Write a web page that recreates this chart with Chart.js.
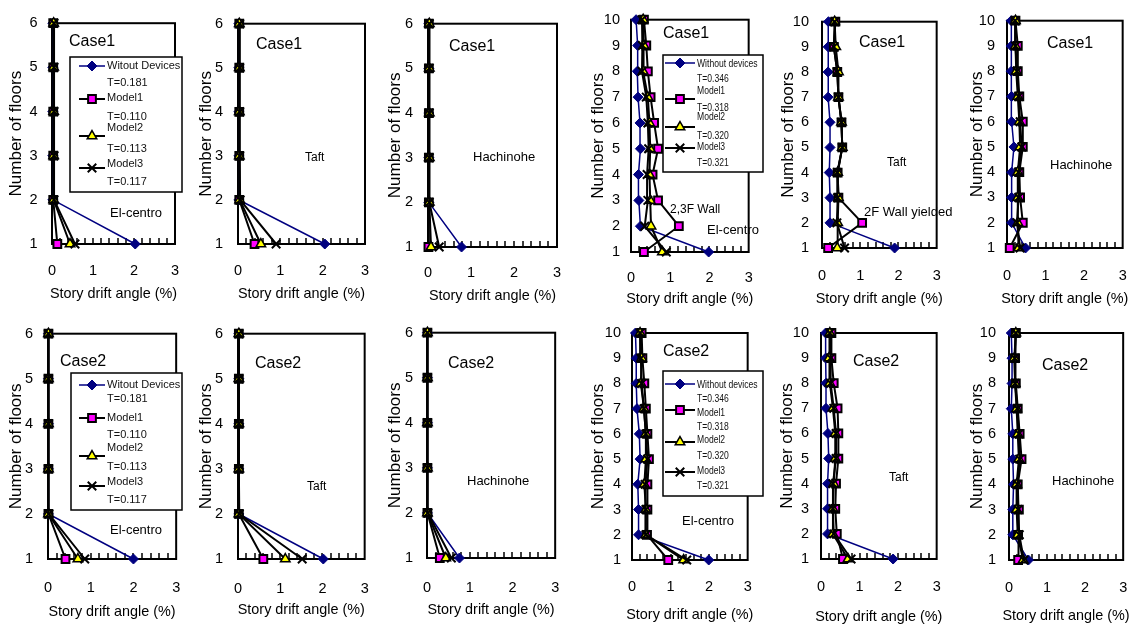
<!DOCTYPE html>
<html><head><meta charset="utf-8">
<script src="https://cdn.jsdelivr.net/npm/chart.js@4/dist/chart.umd.min.js"></script>
<style>
html,body{margin:0;padding:0;background:#fff;}
body{width:1146px;height:626px;position:relative;overflow:hidden;}
canvas{position:absolute;}
</style></head><body>
<script>
// ---------- DATA ----------
const floors6 = [1,2,3,4,5,6];
const floors10 = [1,2,3,4,5,6,7,8,9,10];
const xTickLabels = ['0','1','2','3'];
const xTitleText = 'Story drift angle (%)';
const yTitleText = 'Number of floors';
const names6 = ['Witout Devices','Model1','Model2','Model3'];
const periods6 = ['T=0.181','T=0.110','T=0.113','T=0.117'];
const names10 = ['Without devices','Model1','Model2','Model3'];
const periods10 = ['T=0.346','T=0.318','T=0.320','T=0.321'];

// 6-storey, Case1 (values for floors 1..6)
const c1_6_elc_without = [2.03, 0.02, 0.02, 0.02, 0.02, 0.02];
const c1_6_elc_model1  = [0.13, 0.03, 0.03, 0.03, 0.03, 0.03];
const c1_6_elc_model2  = [0.44, 0.04, 0.04, 0.04, 0.04, 0.04];
const c1_6_elc_model3  = [0.56, 0.05, 0.05, 0.05, 0.05, 0.05];
const c1_6_taft_without = [2.05, 0.02, 0.02, 0.02, 0.02, 0.02];
const c1_6_taft_model1  = [0.39, 0.03, 0.03, 0.03, 0.03, 0.03];
const c1_6_taft_model2  = [0.54, 0.04, 0.03, 0.03, 0.03, 0.03];
const c1_6_taft_model3  = [0.90, 0.05, 0.04, 0.04, 0.04, 0.04];
const c1_6_hach_without = [0.78, 0.02, 0.02, 0.02, 0.02, 0.02];
const c1_6_hach_model1  = [0.01, 0.02, 0.02, 0.02, 0.02, 0.02];
const c1_6_hach_model2  = [0.07, 0.03, 0.03, 0.03, 0.03, 0.03];
const c1_6_hach_model3  = [0.26, 0.03, 0.03, 0.03, 0.03, 0.03];
// 6-storey, Case2
const c2_6_elc_without = [2.00, 0.01, 0.01, 0.01, 0.01, 0.01];
const c2_6_elc_model1  = [0.41, 0.01, 0.01, 0.01, 0.01, 0.01];
const c2_6_elc_model2  = [0.70, 0.01, 0.01, 0.01, 0.01, 0.01];
const c2_6_elc_model3  = [0.86, 0.02, 0.01, 0.01, 0.01, 0.01];
const c2_6_taft_without = [2.02, 0.02, 0.02, 0.02, 0.02, 0.02];
const c2_6_taft_model1  = [0.60, 0.02, 0.02, 0.02, 0.02, 0.02];
const c2_6_taft_model2  = [1.12, 0.02, 0.02, 0.02, 0.02, 0.02];
const c2_6_taft_model3  = [1.52, 0.03, 0.02, 0.02, 0.02, 0.02];
const c2_6_hach_without = [0.76, 0.01, 0.01, 0.01, 0.01, 0.01];
const c2_6_hach_model1  = [0.30, 0.01, 0.01, 0.01, 0.01, 0.01];
const c2_6_hach_model2  = [0.44, 0.01, 0.01, 0.01, 0.01, 0.01];
const c2_6_hach_model3  = [0.57, 0.02, 0.01, 0.01, 0.01, 0.01];

// 10-storey, Case1 (values for floors 1..10)
const c1_10_elc_without = [1.98, 0.24, 0.20, 0.19, 0.24, 0.23, 0.18, 0.16, 0.17, 0.13];
const c1_10_elc_model1  = [0.33, 1.22, 0.69, 0.55, 0.69, 0.59, 0.50, 0.43, 0.39, 0.33];
const c1_10_elc_model2  = [0.80, 0.51, 0.49, 0.47, 0.49, 0.47, 0.43, 0.31, 0.33, 0.31];
const c1_10_elc_model3  = [0.90, 0.35, 0.43, 0.41, 0.45, 0.43, 0.39, 0.28, 0.29, 0.28];
const c1_10_taft_without = [1.90, 0.21, 0.21, 0.19, 0.21, 0.21, 0.16, 0.16, 0.16, 0.17];
const c1_10_taft_model1  = [0.16, 1.05, 0.43, 0.41, 0.53, 0.51, 0.43, 0.40, 0.31, 0.35];
const c1_10_taft_model2  = [0.40, 0.41, 0.43, 0.41, 0.53, 0.51, 0.43, 0.43, 0.36, 0.33];
const c1_10_taft_model3  = [0.59, 0.39, 0.41, 0.40, 0.53, 0.51, 0.43, 0.40, 0.31, 0.33];
const c1_10_hach_without = [0.48, 0.12, 0.12, 0.12, 0.18, 0.12, 0.12, 0.11, 0.11, 0.11];
const c1_10_hach_model1  = [0.07, 0.41, 0.34, 0.32, 0.41, 0.41, 0.32, 0.28, 0.28, 0.22];
const c1_10_hach_model2  = [0.30, 0.28, 0.28, 0.28, 0.34, 0.32, 0.28, 0.24, 0.22, 0.22];
const c1_10_hach_model3  = [0.34, 0.26, 0.30, 0.30, 0.38, 0.34, 0.30, 0.26, 0.22, 0.21];
// 10-storey, Case2
const c2_10_elc_without = [1.99, 0.17, 0.17, 0.15, 0.21, 0.19, 0.13, 0.11, 0.11, 0.09];
const c2_10_elc_model1  = [0.94, 0.39, 0.40, 0.40, 0.44, 0.40, 0.36, 0.32, 0.27, 0.25];
const c2_10_elc_model2  = [1.34, 0.36, 0.36, 0.32, 0.36, 0.36, 0.31, 0.23, 0.25, 0.21];
const c2_10_elc_model3  = [1.42, 0.36, 0.36, 0.34, 0.40, 0.36, 0.31, 0.25, 0.23, 0.21];
const c2_10_taft_without = [1.87, 0.17, 0.17, 0.17, 0.20, 0.18, 0.13, 0.13, 0.12, 0.12];
const c2_10_taft_model1  = [0.57, 0.41, 0.37, 0.39, 0.45, 0.45, 0.43, 0.33, 0.27, 0.27];
const c2_10_taft_model2  = [0.70, 0.31, 0.31, 0.33, 0.37, 0.37, 0.31, 0.23, 0.21, 0.23];
const c2_10_taft_model3  = [0.78, 0.33, 0.31, 0.31, 0.39, 0.39, 0.33, 0.25, 0.25, 0.23];
const c2_10_hach_without = [0.51, 0.10, 0.10, 0.12, 0.10, 0.10, 0.06, 0.08, 0.08, 0.06];
const c2_10_hach_model1  = [0.24, 0.24, 0.26, 0.23, 0.33, 0.28, 0.23, 0.18, 0.16, 0.18];
const c2_10_hach_model2  = [0.37, 0.23, 0.20, 0.20, 0.26, 0.23, 0.20, 0.16, 0.14, 0.18];
const c2_10_hach_model3  = [0.39, 0.27, 0.24, 0.22, 0.28, 0.26, 0.22, 0.16, 0.15, 0.18];

// ---------- STYLE / LAYOUT ----------
const FONT = "'Liberation Sans', Arial, sans-serif";
const minorStep = 0.2;
const tickSize = 14.5, xTitleSize = 14.4, yTitleSize = 17;
const seriesStyles = [
  {line:'#000080', fill:'#000080', stroke:'#000080', pointStyle:'rectRot', radius:5, lineWidth:1.5, pbw:1, order:3},
  {line:'#000000', fill:'#FF00FF', stroke:'#000000', pointStyle:'rect', radius:5.5, lineWidth:2, pbw:2, order:2},
  {line:'#000000', fill:'#FFFF00', stroke:'#000000', pointStyle:'triangle', radius:5.5, lineWidth:2, pbw:1.5, order:1},
  {line:'#000000', fill:'#000000', stroke:'#000000', pointStyle:'crossRot', radius:6, lineWidth:2, pbw:2, order:0}
];
const colX = [0,190,380,570,760,950];
const rowY = [0,310];
const rowH = [310,316];

const legend6a = {x:70,y:57,w:112,h:135,sx1:9,sx2:35,lx:37,labelY:[9,41,71,107],tY:[26,60,92,125],sampleY:[9,42,79,111],size:11,scaleX:1,names:names6,periods:periods6};
const legend6b = {x:71,y:63,w:111,h:137,sx1:8,sx2:34,lx:36,labelY:[12,45,75,109],tY:[26,62,94,127],sampleY:[12,45,83,113],size:11,scaleX:1,names:names6,periods:periods6};
const legend10a = {x:93,y:55,w:100,h:117,sx1:2,sx2:32,lx:34,labelY:[9,36,62,92],tY:[24,53,81,108],sampleY:[8,44,72,93],size:11,scaleX:0.78,names:names10,periods:periods10};
const legend10b = {x:93,y:61,w:100,h:125,sx1:2,sx2:32,lx:34,labelY:[14,42,69,100],tY:[28,56,85,115],sampleY:[13,39,71,101],size:11,scaleX:0.78,names:names10,periods:periods10};

const charts = [
  {col:0,row:0,floors:floors6,series:[c1_6_elc_without,c1_6_elc_model1,c1_6_elc_model2,c1_6_elc_model3],
   L:52,R:175,T:14,B:244,yTitleX:16,xTitleY:294,xTickY:271,yTickRight:37.5,legend:legend6a,
   notes:[{t:'Case1',x:69,y:42,s:16},{t:'El-centro',x:110,y:213,s:13}]},
  {col:1,row:0,floors:floors6,series:[c1_6_taft_without,c1_6_taft_model1,c1_6_taft_model2,c1_6_taft_model3],
   L:48,R:175,T:14,B:244,yTitleX:16,xTitleY:294,xTickY:271,yTickRight:33,
   notes:[{t:'Case1',x:66,y:45,s:16},{t:'Taft',x:115,y:158,s:12}]},
  {col:2,row:0,floors:floors6,series:[c1_6_hach_without,c1_6_hach_model1,c1_6_hach_model2,c1_6_hach_model3],
   L:48,R:177,T:14,B:247,yTitleX:15,xTitleY:296,xTickY:273,yTickRight:33,
   notes:[{t:'Case1',x:69,y:47,s:16},{t:'Hachinohe',x:93,y:157,s:13}]},
  {col:3,row:0,floors:floors10,series:[c1_10_elc_without,c1_10_elc_model1,c1_10_elc_model2,c1_10_elc_model3],
   L:61,R:188,T:17,B:252,yTitleX:28,xTitleY:299,xTickY:278,yTickRight:50,legend:legend10a,
   notes:[{t:'Case1',x:93,y:34,s:16},{t:'2,3F Wall',x:100,y:210,s:12},{t:'El-centro',x:137,y:230,s:13}]},
  {col:4,row:0,floors:floors10,series:[c1_10_taft_without,c1_10_taft_model1,c1_10_taft_model2,c1_10_taft_model3],
   L:62,R:188,T:18,B:248,yTitleX:28,xTitleY:299,xTickY:276,yTickRight:49,
   notes:[{t:'Case1',x:99,y:43,s:16},{t:'Taft',x:127,y:163,s:12},{t:'2F Wall yielded',x:104,y:212,s:13}]},
  {col:5,row:0,floors:floors10,series:[c1_10_hach_without,c1_10_hach_model1,c1_10_hach_model2,c1_10_hach_model3],
   L:57,R:187,T:18,B:248,yTitleX:27,xTitleY:299,xTickY:276,yTickRight:45,
   notes:[{t:'Case1',x:97,y:44,s:16},{t:'Hachinohe',x:100,y:165,s:13}]},
  {col:0,row:1,floors:floors6,series:[c2_6_elc_without,c2_6_elc_model1,c2_6_elc_model2,c2_6_elc_model3],
   L:48,R:177,T:16,B:249,yTitleX:16,xTitleY:302.5,xTickY:277.5,yTickRight:33,legend:legend6b,
   notes:[{t:'Case2',x:60,y:52,s:16},{t:'El-centro',x:110,y:220,s:13}]},
  {col:1,row:1,floors:floors6,series:[c2_6_taft_without,c2_6_taft_model1,c2_6_taft_model2,c2_6_taft_model3],
   L:48,R:177,T:16,B:249,yTitleX:16,xTitleY:300.5,xTickY:279,yTickRight:33,
   notes:[{t:'Case2',x:65,y:54,s:16},{t:'Taft',x:117,y:177,s:12}]},
  {col:2,row:1,floors:floors6,series:[c2_6_hach_without,c2_6_hach_model1,c2_6_hach_model2,c2_6_hach_model3],
   L:47,R:177,T:16,B:248,yTitleX:15,xTitleY:300.5,xTickY:277.5,yTickRight:33,
   notes:[{t:'Case2',x:68,y:54,s:16},{t:'Hachinohe',x:87,y:171,s:13}]},
  {col:3,row:1,floors:floors10,series:[c2_10_elc_without,c2_10_elc_model1,c2_10_elc_model2,c2_10_elc_model3],
   L:62,R:188,T:23,B:250,yTitleX:28,xTitleY:305,xTickY:277,yTickRight:51,legend:legend10b,
   notes:[{t:'Case2',x:93,y:42,s:16,clipBottom:46},{t:'El-centro',x:112,y:211,s:13}]},
  {col:4,row:1,floors:floors10,series:[c2_10_taft_without,c2_10_taft_model1,c2_10_taft_model2,c2_10_taft_model3],
   L:61,R:188,T:23,B:249,yTitleX:27,xTitleY:307,xTickY:277,yTickRight:49,
   notes:[{t:'Case2',x:93,y:52,s:16},{t:'Taft',x:129,y:168,s:12}]},
  {col:5,row:1,floors:floors10,series:[c2_10_hach_without,c2_10_hach_model1,c2_10_hach_model2,c2_10_hach_model3],
   L:59,R:188,T:23,B:250,yTitleX:27,xTitleY:306,xTickY:277.5,yTickRight:46,
   notes:[{t:'Case2',x:92,y:56,s:16},{t:'Hachinohe',x:102,y:171,s:13}]}
];

// ---------- PLUGIN ----------
const framePlugin = {
  id: 'frame',
  beforeDatasetsDraw(chart) {
    const {ctx, chartArea: a} = chart;
    const xs = chart.scales.x;
    ctx.save();
    ctx.strokeStyle = '#000';
    ctx.lineWidth = 2;
    ctx.strokeRect(a.left, a.top, a.right - a.left, a.bottom - a.top);
    ctx.lineWidth = 1.5;
    ctx.beginPath();
    for (let v = minorStep; v < xs.max - 1e-6; v += minorStep) {
      const px = Math.round(xs.getPixelForValue(v));
      ctx.moveTo(px, a.bottom);
      ctx.lineTo(px, a.bottom - 6);
    }
    ctx.stroke();
    ctx.restore();
  },
  afterDraw(chart, args, opts) {
    const ctx = chart.ctx;
    const a = chart.chartArea;
    ctx.save();
    ctx.fillStyle = '#000';
    ctx.textBaseline = 'middle';
    // axis titles
    ctx.textAlign = 'center';
    ctx.font = xTitleSize + 'px ' + FONT;
    ctx.fillText(xTitleText, (a.left + a.right) / 2, opts.xTitleY);
    ctx.save();
    ctx.translate(opts.yTitleX, (a.top + a.bottom) / 2);
    ctx.rotate(-Math.PI / 2);
    ctx.font = yTitleSize + 'px ' + FONT;
    ctx.fillText(yTitleText, 0, 0);
    ctx.restore();
    // notes
    ctx.textAlign = 'left';
    (opts.notes || []).forEach(n => {
      ctx.save();
      if (n.clipBottom) { ctx.beginPath(); ctx.rect(0, 0, chart.width, n.clipBottom); ctx.clip(); }
      ctx.font = n.s + 'px ' + FONT;
      ctx.fillText(n.t, n.x, n.y);
      ctx.restore();
    });
    // legend
    const lg = opts.legend;
    if (lg) {
      ctx.fillStyle = '#fff';
      ctx.fillRect(lg.x, lg.y, lg.w, lg.h);
      ctx.strokeStyle = '#000';
      ctx.lineWidth = 1.5;
      ctx.strokeRect(lg.x, lg.y, lg.w, lg.h);
      for (let i = 0; i < 4; i++) {
        const st = seriesStyles[i];
        const sy = lg.y + lg.sampleY[i];
        ctx.strokeStyle = st.line;
        ctx.lineWidth = st.lineWidth;
        ctx.beginPath();
        ctx.moveTo(lg.x + lg.sx1, sy);
        ctx.lineTo(lg.x + lg.sx2, sy);
        ctx.stroke();
        ctx.fillStyle = st.fill;
        ctx.strokeStyle = st.stroke;
        ctx.lineWidth = st.pbw;
        Chart.helpers.drawPoint(ctx, {pointStyle: st.pointStyle, radius: st.radius, rotation: 0, borderWidth: st.pbw}, lg.x + (lg.sx1 + lg.sx2) / 2, sy);
        ctx.fillStyle = '#111';
        ctx.font = lg.size + 'px ' + FONT;
        [[lg.names[i], lg.labelY[i]], [lg.periods[i], lg.tY[i]]].forEach(([txt, dy]) => {
          ctx.save();
          ctx.translate(lg.x + lg.lx, lg.y + dy);
          ctx.scale(lg.scaleX, 1);
          ctx.fillText(txt, 0, 0);
          ctx.restore();
        });
      }
    }
    ctx.restore();
  }
};

// ---------- BUILD ----------
charts.forEach(c => {
  const CW = c.col === 5 ? 196 : 200;
  const CH = rowH[c.row];
  const cv = document.createElement('canvas');
  cv.width = CW; cv.height = CH;
  cv.style.left = colX[c.col] + 'px';
  cv.style.top = rowY[c.row] + 'px';
  cv.style.width = CW + 'px'; cv.style.height = CH + 'px';
  document.body.appendChild(cv);

  const datasets = c.series.map((vals, i) => {
    const st = seriesStyles[i];
    return {
      data: c.floors.map((f, k) => ({x: vals[k], y: f})),
      showLine: true,
      order: st.order,
      borderColor: st.line,
      borderWidth: st.lineWidth,
      backgroundColor: st.fill,
      pointStyle: st.pointStyle,
      pointRadius: st.radius,
      pointBackgroundColor: st.fill,
      pointBorderColor: st.stroke,
      pointBorderWidth: st.pbw,
      tension: 0,
      clip: false
    };
  });
  const nFloors = c.floors.length;
  new Chart(cv, {
    type: 'scatter',
    data: {datasets},
    plugins: [framePlugin],
    options: {
      responsive: false,
      animation: false,
      devicePixelRatio: 1,
      events: [],
      layout: {autoPadding: false, padding: {left: 0, top: c.T, right: CW - c.R, bottom: 0}},
      plugins: {
        legend: {display: false},
        tooltip: {enabled: false},
        frame: {notes: c.notes, legend: c.legend, xTitleY: c.xTitleY, yTitleX: c.yTitleX}
      },
      scales: {
        x: {
          type: 'linear', position: 'bottom', min: 0, max: 3,
          grid: {display: false, drawTicks: false},
          border: {display: false},
          ticks: {stepSize: 1, color: '#000', font: {family: FONT, size: tickSize},
                  padding: c.xTickY - c.B - tickSize * 0.6,
                  callback: (v, i) => xTickLabels[i]},
          title: {display: false},
          afterFit: s => { s.height = CH - c.B; }
        },
        y: {
          type: 'linear', position: 'left', min: 1, max: c.floors[nFloors - 1],
          grid: {display: false, drawTicks: false},
          border: {display: false},
          ticks: {stepSize: 1, color: '#000', font: {family: FONT, size: tickSize},
                  padding: c.L - c.yTickRight, callback: v => String(v)},
          title: {display: false},
          afterFit: s => { s.width = c.L; }
        }
      }
    }
  });
});
</script>
</body></html>
